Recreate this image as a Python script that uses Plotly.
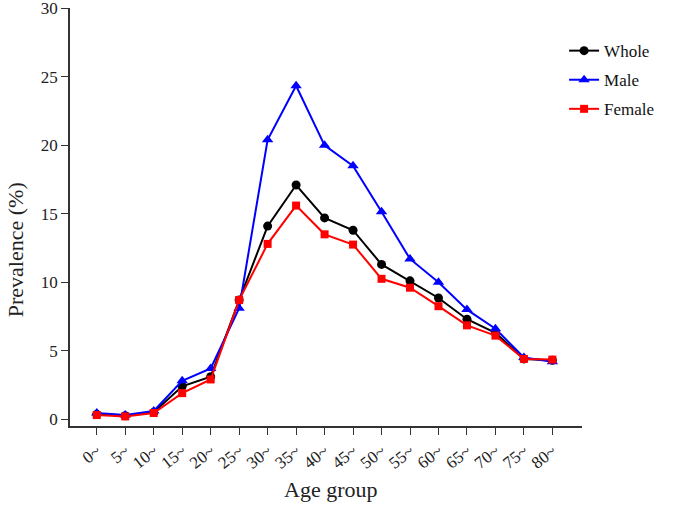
import plotly.graph_objects as go

age_groups = ["0~", "5~", "10~", "15~", "20~", "25~", "30~", "35~", "40~", "45~",
              "50~", "55~", "60~", "65~", "70~", "75~", "80~"]
whole = [0.35, 0.25, 0.5, 2.4, 3.1, 8.7, 14.1, 17.1, 14.7, 13.8, 11.3, 10.1, 8.85, 7.3, 6.3, 4.4, 4.3]
male = [0.45, 0.3, 0.6, 2.8, 3.7, 8.1, 20.4, 24.35, 20.0, 18.5, 15.15, 11.7, 10.0, 8.0, 6.6, 4.5, 4.2]
female = [0.3, 0.2, 0.45, 1.9, 2.9, 8.7, 12.8, 15.6, 13.5, 12.75, 10.25, 9.6, 8.25, 6.85, 6.1, 4.4, 4.35]
y_ticks = [0, 5, 10, 15, 20, 25, 30]

xi = list(range(len(age_groups)))
font = "Liberation Serif, Times New Roman, serif"

fig = go.Figure()
fig.add_trace(go.Scatter(x=xi, y=whole, name="Whole", mode="lines+markers", legendgroup="a",
                         line=dict(color="black", width=2),
                         marker=dict(symbol="circle", size=9, color="black")))
fig.add_trace(go.Scatter(x=xi, y=male, name="Male", mode="lines+markers", legendgroup="b",
                         line=dict(color="#0000FF", width=2),
                         marker=dict(symbol="triangle-up", size=10, color="#0000FF")))
fig.add_trace(go.Scatter(x=xi, y=female, name="Female", mode="lines+markers", legendgroup="c",
                         line=dict(color="#FF0000", width=2),
                         marker=dict(symbol="square", size=8, color="#FF0000")))

fig.update_layout(
    width=700, height=514,
    margin=dict(l=70, r=118, t=8, b=88, autoexpand=False),
    plot_bgcolor="white", paper_bgcolor="white",
    font=dict(family=font, size=16, color="#222"),
    showlegend=True,
    legend=dict(x=0.965, y=0.94, xanchor="left", yanchor="top",
                font=dict(family=font, size=17, color="#111"),
                bgcolor="rgba(0,0,0,0)", tracegroupgap=4),
    xaxis=dict(
        range=[-0.94, 17.04], automargin=False,
        tickmode="array", tickvals=xi, ticktext=age_groups,
        tickangle=-38, ticks="outside", ticklen=7, tickwidth=1.3, tickcolor="#333",
        showline=True, linecolor="#333", linewidth=1.5,
        showgrid=False, zeroline=False,
        tickfont=dict(family=font, size=17, color="#222"),
    ),
    yaxis=dict(
        range=[-0.5, 30.03], automargin=False, ticklabeloverflow="allow",
        tickmode="array", tickvals=y_ticks,
        ticks="outside", ticklen=7, tickwidth=1.3, tickcolor="#333",
        showline=True, linecolor="#333", linewidth=1.5,
        showgrid=False, zeroline=False,
        tickfont=dict(family=font, size=17, color="#222"),
    ),
    annotations=[
        dict(text="Age group", xref="paper", yref="paper", x=0.508, y=-0.153,
             xanchor="center", yanchor="middle", showarrow=False,
             font=dict(family=font, size=22, color="#222")),
        dict(text="Prevalence (%)", xref="paper", yref="paper", x=-0.107, y=0.421,
             xanchor="center", yanchor="middle", showarrow=False, textangle=-90,
             font=dict(family=font, size=22, color="#222")),
    ],
)

fig.write_html("out.html", config={"displayModeBar": False},
               post_script="document.body.style.margin='0';document.body.style.padding='0';")
